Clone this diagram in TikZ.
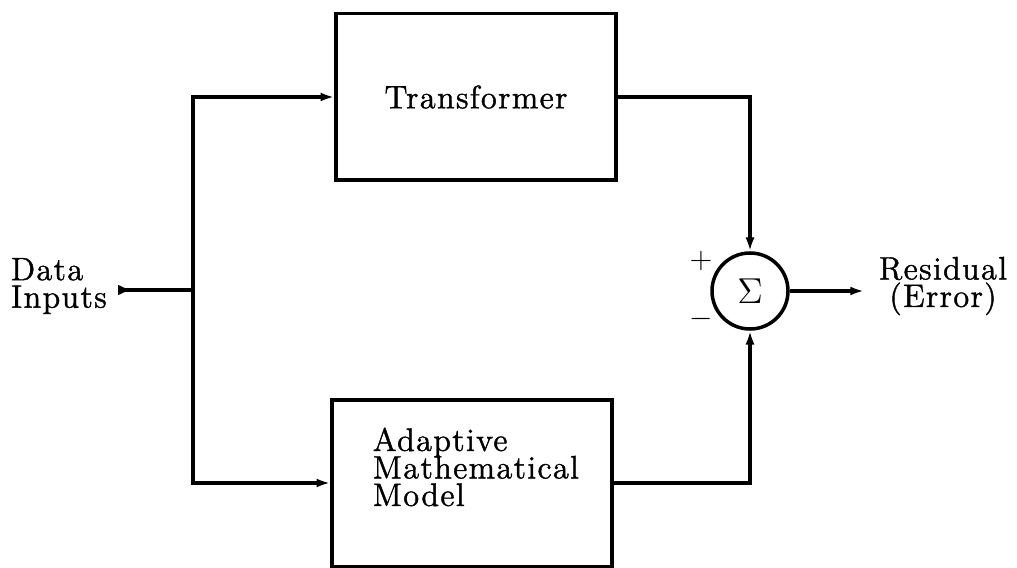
\documentclass[tikz,border=0pt]{standalone}
\usepackage{amsmath}
\usepackage{fontspec}
\setmainfont{Latin Modern Roman}[LetterSpace=4, FakeBold=1.2]
\usepackage{tikz}
\usetikzlibrary{
  arrows.meta,
  positioning,
  calc
}
\definecolor{linecolor}{RGB}{0, 0, 0}
\definecolor{labelcolor}{RGB}{0, 0, 0}
\tikzset{
blocktext/.style={
  font=\fontsize{13}{15}\selectfont,
  text=labelcolor
},
modelblock/.style={
  draw=linecolor,
  line width=1.4pt,
  minimum width=112pt,
  minimum height=66.6pt,
  inner sep=0pt
},
sumnode/.style={
  draw=linecolor,
  circle,
  line width=1.4pt,
  minimum size=30.4pt,
  inner sep=0pt,
  font=\Large,
  text=labelcolor
},
sidelabel/.style={
  align=left,
  blocktext
},
signlabel/.style={
  font=\large,
  text=labelcolor
},
arrow/.style={
  -{Latex[length=5.5pt,width=3.6pt]},
  line width=1.4pt,
  draw=linecolor
},
inarrow/.style={
  {Latex[reversed,length=5.5pt,width=4.4pt]}-,
  line width=1.4pt,
  draw=linecolor
}
}
\begin{document}
\begin{tikzpicture}[x=0.4pt, y=0.4pt]
      % Page frame
      \useasboundingbox (0,0) rectangle (1017,567);
      % Blocks
      \node[modelblock] (trans) at (476,470) {};
      \node[blocktext] (translabel) at (trans.center) {Transformer};
      \node[modelblock] (model) at (472,84) {};
      \node[sidelabel, anchor=west] (modellabel) at (364,100)
        {Adaptive\\[-4pt] Mathematical\\[-4pt] Model};
      \node[sumnode] (sum) at (750,276) {$\Sigma$};
      % Labels
      \node[sidelabel, anchor=west] (inlabel) at (2,281) {Data\\[-4pt] Inputs};
      \node[sidelabel, align=center] (outlabel) at (943,281) {Residual\\[-4pt] (Error)};
      \node[signlabel] (plus) at (701,306) {$+$};
      \node[signlabel] (minus) at (701,248) {$-$};
      % Connections
      \coordinate (in) at (118,277);
      \coordinate (split) at (193,277);
      \coordinate (out) at (864,276);
      \draw[inarrow] (in) -- (split);
      \draw[arrow] (split) |- (trans.west);
      \draw[arrow] (split) |- (model.west);
      \draw[arrow] (trans.east) -| (sum.north);
      \draw[arrow] (model.east) -| (sum.south);
      \draw[arrow] (sum.east) -- (out);
    \end{tikzpicture}
\end{document}
